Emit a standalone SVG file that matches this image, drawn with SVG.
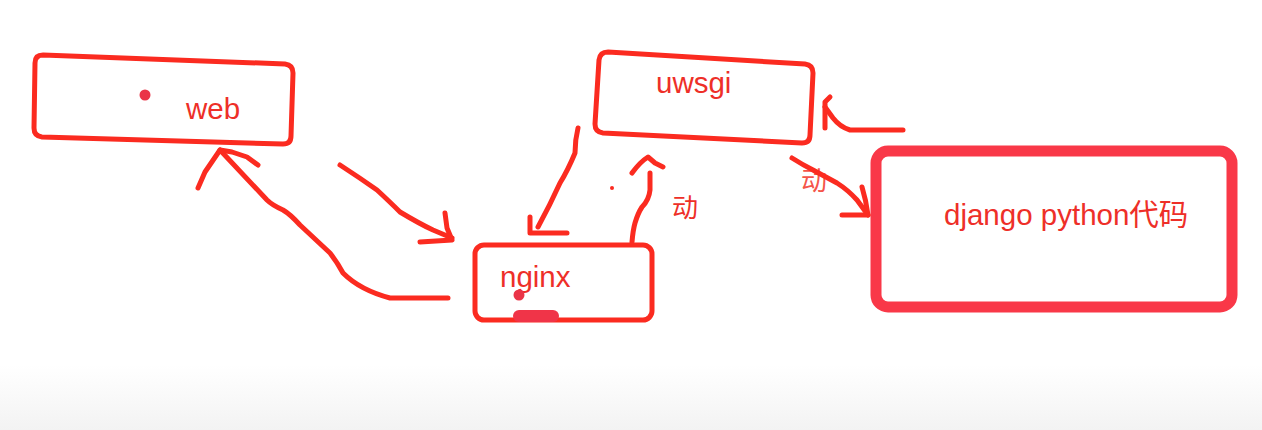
<svg xmlns="http://www.w3.org/2000/svg" width="1262" height="430" viewBox="0 0 1262 430">
<style>
.box{fill:none;stroke:#fb2b20;stroke-width:5;stroke-linejoin:round}
.big{fill:none;stroke:#f93848;stroke-width:11;stroke-linejoin:round}
.c{fill:none;stroke:#fb2b20;stroke-width:5;stroke-linecap:round;stroke-linejoin:round}
.t{font-family:"Liberation Sans",Arial,"Noto Sans CJK SC",sans-serif;font-size:29.5px;fill:#ee2f28}
.cj{font-family:"Noto Sans CJK SC",sans-serif;font-size:26px;fill:#ee2f28}
.dot{fill:#ea3448}
</style>
<defs>
<linearGradient id="bg" x1="0" y1="0" x2="0" y2="1">
<stop offset="0" stop-color="#ffffff"/>
<stop offset="1" stop-color="#f3f3f3"/>
</linearGradient>
</defs>
<rect x="0" y="0" width="1262" height="430" fill="#ffffff"/>
<rect x="0" y="365" width="1262" height="65" fill="url(#bg)"/>

<g id="web">
<path class="box" d="M43,55 L285,64 Q293,65 293,73 L291,136 Q291,144 283,144 L42,137 Q34,136 34,128 L35,63 Q35,55 43,55 Z"/>
<circle class="dot" cx="145" cy="95" r="5.5"/>
<text class="t" x="186" y="119">web</text>
</g>

<g id="uwsgi">
<path class="box" d="M608,52 L805,64 Q813,65 813,73 L810,135 Q810,143 802,143 L603,133 Q595,132 595,124 L599,60 Q600,52 608,52 Z"/>
<text class="t" x="656" y="93">uwsgi</text>
</g>

<g id="nginx">
<rect class="box" x="475" y="245" width="177" height="75" rx="9"/>
<text class="t" x="500" y="287">nginx</text>
<circle class="dot" cx="519" cy="295" r="5.5"/>
<rect x="513" y="310" width="46" height="12" rx="6" fill="#f03448"/>
</g>

<g id="django">
<rect class="big" x="876" y="151" width="356" height="156" rx="12"/>
<text class="t" x="944" y="225">django python代码</text>
</g>

<g id="connectors">
<!-- nginx to web -->
<path class="c" d="M448,298 L390,298 Q360,290 343,273 Q337,262 330,253 L300,225 Q290,214 283,210 Q272,205 267,200 L220,150"/>
<path class="c" d="M198,188 L205,172 L220,150 L232,152 L247,157 L258,165"/>
<!-- web to nginx -->
<path class="c" d="M340,165 Q360,178 377,190 Q390,202 400,212 Q420,224 433,230 L452,238"/>
<path class="c" d="M445,213 L447,228 L452,240 L420,242"/>
<!-- uwsgi to nginx -->
<path class="c" d="M578,128 Q575,140 575,153 Q568,170 560,183 Q550,205 538,227"/>
<path class="c" d="M530,217 L530,233 L567,233"/>
<!-- nginx to uwsgi -->
<path class="c" d="M632,242 Q633,230 635,223 Q638,213 642,207 Q649,200 650,190 L650,173"/>
<path class="c" d="M632,173 Q640,162 648,157 L655,163 L663,167"/>
<circle cx="612" cy="188" r="2" fill="#fb2b20"/>
<text class="cj" x="672" y="217">动</text>
<!-- uwsgi to django -->
<text class="cj" x="801" y="190" style="fill:#f5554a">动</text>
<path class="c" d="M792,158 Q803,165 813,170 Q826,177 837,183 Q848,190 857,200 L868,215"/>
<path class="c" d="M862,187 Q866,200 868,215 L842,215"/>
<!-- django to uwsgi -->
<path class="c" d="M903,130 L850,130 Q840,127 833,118 L825,107"/>
<path class="c" d="M825,128 L825,102 L830,97"/>
</g>
</svg>
